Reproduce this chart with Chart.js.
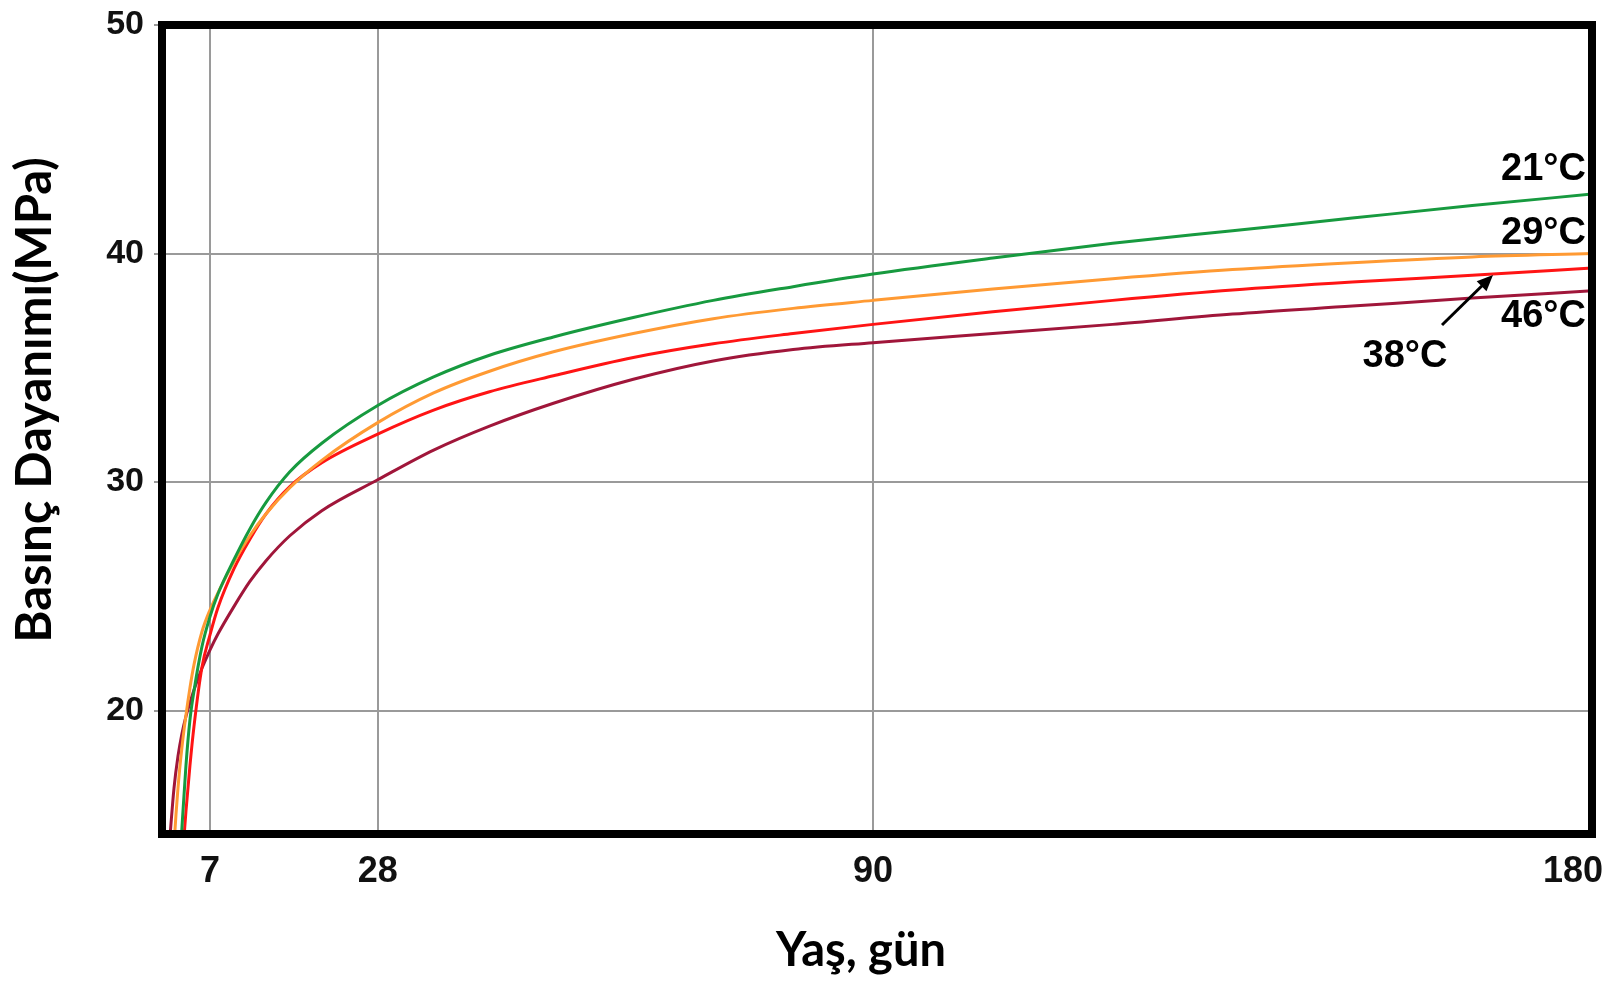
<!DOCTYPE html>
<html lang="tr">
<head>
  <meta charset="UTF-8" />
  <title>Basınç Dayanımı - Yaş</title>
  <script src="https://cdn.jsdelivr.net/npm/chart.js"></script>
  <style>
    html, body { margin: 0; padding: 0; background: #fff; }
    #wrap { width: 1616px; height: 981px; }
  </style>
</head>
<body>
  <div id="wrap"><canvas id="grafik"></canvas></div>

  <script>
    // --- veriler (gün, MPa) ---
    const gunler = [2, 2.5, 3, 3.5, 4, 4.5, 5, 6, 7, 8, 10, 12, 14, 17, 21, 28, 35, 42, 50, 60, 70, 80, 90, 105, 120, 135, 150, 165, 180];
    const t21 = [5.0, 9.0, 12.0, 14.9, 17.6, 19.6, 20.85, 22.8, 24.1, 25.1, 26.6, 27.95, 29.1, 30.45, 31.7, 33.35, 34.6, 35.55, 36.35, 37.2, 37.95, 38.55, 39.1, 39.8, 40.45, 41.0, 41.55, 42.1, 42.6];
    const t29 = [9.5, 14.0, 16.6, 18.4, 19.8, 21.0, 22.0, 23.45, 24.4, 25.15, 26.5, 27.65, 28.6, 29.75, 30.95, 32.6, 33.9, 34.85, 35.7, 36.5, 37.15, 37.6, 37.95, 38.45, 38.9, 39.3, 39.6, 39.85, 40.0];
    const t38 = [3.0, 7.5, 10.8, 13.3, 15.6, 17.6, 19.3, 21.9, 23.3, 24.5, 26.2, 27.5, 28.6, 29.8, 30.85, 32.1, 33.15, 33.95, 34.65, 35.45, 36.05, 36.5, 36.9, 37.45, 37.95, 38.4, 38.75, 39.05, 39.37];
    const t46 = [14.5, 16.6, 18.0, 19.0, 19.75, 20.35, 20.9, 21.85, 22.65, 23.35, 24.55, 25.65, 26.55, 27.65, 28.75, 30.1, 31.4, 32.45, 33.45, 34.5, 35.3, 35.8, 36.1, 36.5, 36.9, 37.35, 37.7, 38.05, 38.37];

    const xTicks = [7, 28, 90, 180];
    const yTicks = [20, 30, 40, 50];

    const seriler = [
      { label: "21°C", data: t21, color: "#179a3f" },
      { label: "29°C", data: t29, color: "#ff9a33" },
      { label: "38°C", data: t38, color: "#ff1414" },
      { label: "46°C", data: t46, color: "#a0163a" }
    ];

    // çerçeve, eksen yazıları ve etiketler
    const cizimEklentisi = {
      id: "cizim",
      afterDraw(chart) {
        const ctx = chart.ctx;
        const a = chart.chartArea;
        const x = chart.scales.x;
        ctx.save();

        // kalın siyah çerçeve
        ctx.strokeStyle = "#000";
        ctx.lineWidth = 8;
        ctx.strokeRect(a.left, a.top, a.right - a.left, a.bottom - a.top);

        // x tick yazıları
        ctx.fillStyle = "#111";
        ctx.font = "bold 36px 'Liberation Sans', Arial, sans-serif";
        ctx.textBaseline = "middle";
        xTicks.forEach((v, i) => {
          const px = x.getPixelForValue(v);
          if (i === xTicks.length - 1) {
            ctx.textAlign = "right";
            ctx.fillText(String(v), px + 11, 872);
          } else {
            ctx.textAlign = "center";
            ctx.fillText(String(v), px, 872);
          }
        });

        // eksen başlıkları
        ctx.font = "bold 47px Lato, 'Open Sans', sans-serif";
        ctx.textAlign = "center";
        ctx.textBaseline = "alphabetic";
        ctx.fillStyle = "#000";
        ctx.fillText("Yaş, gün", 861, 966);

        ctx.save();
        ctx.font = "bold 49px Lato, 'Open Sans', sans-serif";
        ctx.translate(51, 400);
        ctx.rotate(-Math.PI / 2);
        ctx.fillText("Basınç Dayanımı(MPa)", 0, 0);
        ctx.restore();

        // seri etiketleri
        ctx.font = "bold 38px 'Liberation Sans', Arial, sans-serif";
        ctx.textBaseline = "middle";
        ctx.textAlign = "right";
        ctx.fillText("21°C", 1586, 170);
        ctx.fillText("29°C", 1586, 234);
        ctx.fillText("46°C", 1586, 317);
        ctx.textAlign = "center";
        ctx.fillText("38°C", 1405, 357);

        // ok
        const x0 = 1442, y0 = 325, x1 = 1493, y1 = 275;
        const ang = Math.atan2(y1 - y0, x1 - x0);
        ctx.strokeStyle = "#000";
        ctx.lineWidth = 3;
        ctx.beginPath();
        ctx.moveTo(x0, y0);
        ctx.lineTo(x1 - 10 * Math.cos(ang), y1 - 10 * Math.sin(ang));
        ctx.stroke();
        ctx.beginPath();
        ctx.moveTo(x1, y1);
        ctx.lineTo(x1 - 16 * Math.cos(ang) + 7 * Math.sin(ang), y1 - 16 * Math.sin(ang) - 7 * Math.cos(ang));
        ctx.lineTo(x1 - 16 * Math.cos(ang) - 7 * Math.sin(ang), y1 - 16 * Math.sin(ang) + 7 * Math.cos(ang));
        ctx.closePath();
        ctx.fillStyle = "#000";
        ctx.fill();

        ctx.restore();
      }
    };

    new Chart(document.getElementById("grafik").getContext("2d"), {
      type: "line",
      data: {
        datasets: seriler.map(s => ({
          label: s.label,
          data: gunler.map((g, i) => ({ x: g, y: s.data[i] })),
          borderColor: s.color,
          borderWidth: 3,
          pointRadius: 0,
          fill: false,
          cubicInterpolationMode: "monotone"
        }))
      },
      options: {
        responsive: true,
        maintainAspectRatio: false,
        animation: false,
        layout: { padding: { top: 25, right: 24, left: 0, bottom: 0 } },
        plugins: {
          legend: { display: false },
          tooltip: { enabled: false }
        },
        scales: {
          x: {
            type: "linear",
            min: 1,
            max: 180,
            afterBuildTicks: s => { s.ticks = xTicks.map(v => ({ value: v })); },
            afterFit: s => { s.height = 147; },
            ticks: { display: false },
            grid: { color: "#9a9a9a", lineWidth: 2, drawTicks: false },
            border: { display: false }
          },
          y: {
            min: 14.6,
            max: 50,
            afterBuildTicks: s => { s.ticks = yTicks.map(v => ({ value: v })); },
            afterFit: s => { s.width = 162; s.paddingTop = 0; s.paddingBottom = 0; },
            ticks: {
              color: "#111",
              padding: 10,
              font: { family: "'Liberation Sans', Arial, sans-serif", size: 34, weight: "bold" }
            },
            grid: { color: "#9a9a9a", lineWidth: 2, tickLength: 8 },
            border: { display: false }
          }
        }
      },
      plugins: [cizimEklentisi]
    });
  </script>
</body>
</html>
